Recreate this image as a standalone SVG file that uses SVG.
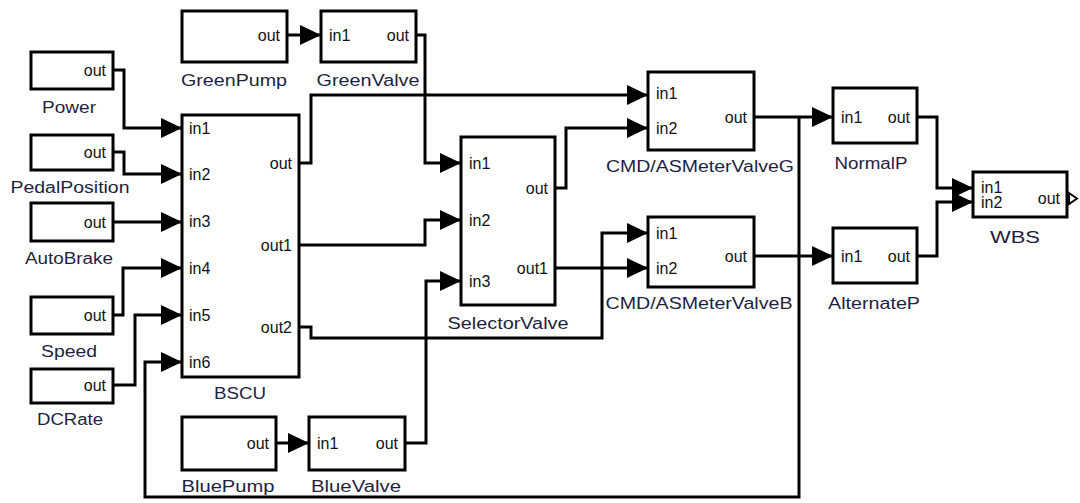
<svg xmlns="http://www.w3.org/2000/svg" width="1080" height="503" viewBox="0 0 1080 503">
<style>
.box{fill:#fff;stroke:#000;stroke-width:3}
.p{font-family:"Liberation Sans",Arial,sans-serif;font-size:16px;fill:#111}
.r{text-anchor:end}
.n{font-family:"Liberation Sans",Arial,sans-serif;font-size:16px;fill:#1f1f3f;text-anchor:middle}
.w{fill:none;stroke:#000;stroke-width:3;marker-end:url(#ah)}
</style>
<defs>
<marker id="ah" markerUnits="userSpaceOnUse" markerWidth="22" markerHeight="20" refX="21" refY="10" orient="auto">
<path d="M0,0 L21,10 L0,20 Z" fill="#000"/>
</marker>
</defs>
<rect width="1080" height="503" fill="#fff"/>
<g id="connectors">
<polyline class="w" points="113,70 124,70 124,128 182,128"/>
<polyline class="w" points="113,152 124,152 124,174 182,174"/>
<polyline class="w" points="113,222 182,222"/>
<polyline class="w" points="113,315 123,315 123,268 182,268"/>
<polyline class="w" points="113,385 135,385 135,315 182,315"/>
<polyline class="w" points="799,117 799,497 145,497 145,362 182,362"/>
<polyline class="w" points="287,35 321,35"/>
<polyline class="w" points="416,35 425,35 425,163 461,163"/>
<polyline class="w" points="299,163 311,163 311,95 648,95"/>
<polyline class="w" points="299,245 425,245 425,220 461,220"/>
<polyline class="w" points="299,327 311,327 311,338 602,338 602,233 648,233"/>
<polyline class="w" points="276,443 309,443"/>
<polyline class="w" points="405,443 426,443 426,281 461,281"/>
<polyline class="w" points="555,188 566,188 566,128 648,128"/>
<polyline class="w" points="555,268 648,268"/>
<polyline class="w" points="754,117 833,117"/>
<polyline class="w" points="754,256 833,256"/>
<polyline class="w" points="917,117 937,117 937,188 973,188"/>
<polyline class="w" points="917,256 937,256 937,202 973,202"/>
</g>
<g id="GreenPump">
<rect class="box" x="182" y="11" width="105" height="51"/>
<text class="p r" x="280" y="41">out</text>
<text class="n" x="234" y="86" textLength="106" lengthAdjust="spacingAndGlyphs">GreenPump</text>
</g>
<g id="GreenValve">
<rect class="box" x="321" y="11" width="95" height="51"/>
<text class="p" x="329" y="41">in1</text>
<text class="p r" x="409" y="41">out</text>
<text class="n" x="368" y="86" textLength="103" lengthAdjust="spacingAndGlyphs">GreenValve</text>
</g>
<g id="Power">
<rect class="box" x="31" y="52" width="82" height="37"/>
<text class="p r" x="106" y="76">out</text>
<text class="n" x="69" y="113" textLength="54" lengthAdjust="spacingAndGlyphs">Power</text>
</g>
<g id="PedalPosition">
<rect class="box" x="31" y="135" width="82" height="35"/>
<text class="p r" x="106" y="158">out</text>
<text class="n" x="70" y="193" textLength="119" lengthAdjust="spacingAndGlyphs">PedalPosition</text>
</g>
<g id="AutoBrake">
<rect class="box" x="31" y="203" width="82" height="38"/>
<text class="p r" x="106" y="228">out</text>
<text class="n" x="69" y="264" textLength="88" lengthAdjust="spacingAndGlyphs">AutoBrake</text>
</g>
<g id="Speed">
<rect class="box" x="31" y="297" width="82" height="37"/>
<text class="p r" x="106" y="321">out</text>
<text class="n" x="69" y="357" textLength="56" lengthAdjust="spacingAndGlyphs">Speed</text>
</g>
<g id="DCRate">
<rect class="box" x="31" y="369" width="82" height="34"/>
<text class="p r" x="106" y="391">out</text>
<text class="n" x="70" y="425" textLength="66" lengthAdjust="spacingAndGlyphs">DCRate</text>
</g>
<g id="BSCU">
<rect class="box" x="182" y="115" width="117" height="262"/>
<text class="p" x="189" y="134">in1</text>
<text class="p" x="189" y="180">in2</text>
<text class="p" x="189" y="227">in3</text>
<text class="p" x="189" y="274">in4</text>
<text class="p" x="189" y="321">in5</text>
<text class="p" x="189" y="368">in6</text>
<text class="p r" x="292" y="169">out</text>
<text class="p r" x="292" y="251">out1</text>
<text class="p r" x="292" y="333">out2</text>
<text class="n" x="240" y="399" textLength="52" lengthAdjust="spacingAndGlyphs">BSCU</text>
</g>
<g id="BluePump">
<rect class="box" x="182" y="417" width="94" height="53"/>
<text class="p r" x="269" y="449">out</text>
<text class="n" x="228" y="492" textLength="93" lengthAdjust="spacingAndGlyphs">BluePump</text>
</g>
<g id="BlueValve">
<rect class="box" x="309" y="417" width="96" height="53"/>
<text class="p" x="317" y="449">in1</text>
<text class="p r" x="398" y="449">out</text>
<text class="n" x="356" y="492" textLength="90" lengthAdjust="spacingAndGlyphs">BlueValve</text>
</g>
<g id="SelectorValve">
<rect class="box" x="461" y="137" width="94" height="168"/>
<text class="p" x="469" y="169">in1</text>
<text class="p" x="469" y="226">in2</text>
<text class="p" x="469" y="287">in3</text>
<text class="p r" x="548" y="194">out</text>
<text class="p r" x="548" y="274">out1</text>
<text class="n" x="508" y="329" textLength="121" lengthAdjust="spacingAndGlyphs">SelectorValve</text>
</g>
<g id="CMDASMeterValveG">
<rect class="box" x="648" y="72" width="106" height="78"/>
<text class="p" x="656" y="99">in1</text>
<text class="p" x="656" y="134">in2</text>
<text class="p r" x="747" y="123">out</text>
<text class="n" x="700" y="172" textLength="188" lengthAdjust="spacingAndGlyphs">CMD/ASMeterValveG</text>
</g>
<g id="CMDASMeterValveB">
<rect class="box" x="648" y="217" width="106" height="70"/>
<text class="p" x="656" y="239">in1</text>
<text class="p" x="656" y="274">in2</text>
<text class="p r" x="747" y="262">out</text>
<text class="n" x="699" y="309" textLength="187" lengthAdjust="spacingAndGlyphs">CMD/ASMeterValveB</text>
</g>
<g id="NormalP">
<rect class="box" x="833" y="88" width="84" height="55"/>
<text class="p" x="841" y="123">in1</text>
<text class="p r" x="910" y="123">out</text>
<text class="n" x="871" y="169" textLength="73" lengthAdjust="spacingAndGlyphs">NormalP</text>
</g>
<g id="AlternateP">
<rect class="box" x="833" y="228" width="84" height="55"/>
<text class="p" x="841" y="262">in1</text>
<text class="p r" x="910" y="262">out</text>
<text class="n" x="874" y="309" textLength="92" lengthAdjust="spacingAndGlyphs">AlternateP</text>
</g>
<g id="WBS">
<rect class="box" x="973" y="172" width="94" height="45"/>
<text class="p" x="981" y="193">in1</text>
<text class="p" x="981" y="208">in2</text>
<text class="p r" x="1060" y="204">out</text>
<polygon points="1069,193 1077,198.5 1069,204" fill="#fff" stroke="#000" stroke-width="2"/>
<text class="n" x="1015" y="243" textLength="50" lengthAdjust="spacingAndGlyphs">WBS</text>
</g>
</svg>
